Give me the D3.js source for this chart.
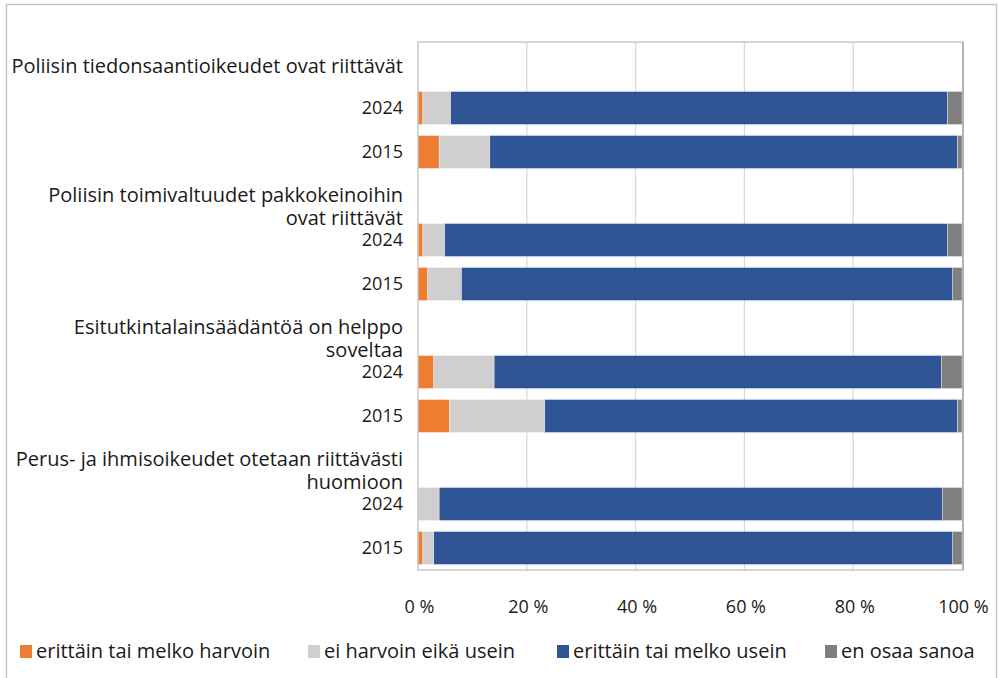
<!DOCTYPE html>
<html><head><meta charset="utf-8">
<script src="https://cdn.jsdelivr.net/npm/d3@7/dist/d3.min.js"></script>
<style>html,body{margin:0;padding:0;background:#fff;}svg{display:block;}</style>
</head><body><svg id="chart" width="999" height="678"></svg>
<script>
const categories = [
  ["Poliisin tiedonsaantioikeudet ovat riittävät"],
  ["Poliisin toimivaltuudet pakkokeinoihin", "ovat riittävät"],
  ["Esitutkintalainsäädäntöä on helppo", "soveltaa"],
  ["Perus- ja ihmisoikeudet otetaan riittävästi", "huomioon"]
];
const years = ["2024", "2015"];
const seriesNames = ["erittäin tai melko harvoin", "ei harvoin eikä usein", "erittäin tai melko usein", "en osaa sanoa"];
// order: cat0-2024, cat0-2015, cat1-2024, cat1-2015, ...
const harvoin = [0.9, 3.9, 0.9, 1.8, 2.9, 5.8, 0.0, 0.9];
const neutraali = [5.1, 9.3, 4.0, 6.2, 11.1, 17.5, 3.9, 2.0];
const usein = [91.3, 86.0, 92.4, 90.3, 82.2, 75.9, 92.5, 95.4];
const eos = [2.7, 0.8, 2.7, 1.7, 3.8, 0.8, 3.6, 1.7];
const xTicks = [0, 20, 40, 60, 80, 100];
const colors = ["#ED7D31", "#D0CECE", "#2F5597", "#7F7F7F"];

const font = "'Open Sans', 'Noto Sans', sans-serif";
const svg = d3.select("#chart");

// outer frame
svg.append("rect").attr("x", 6.5).attr("y", 4.5).attr("width", 990).attr("height", 700)
  .attr("fill", "#fff").attr("stroke", "#BFBFBF").attr("stroke-width", 1.3);

const plot = {left: 418, right: 963, top: 42, bottom: 570};

// rows
const rowIds = [];
categories.forEach((c, i) => {
  rowIds.push("cat" + i);
  years.forEach(y => rowIds.push("cat" + i + "-" + y));
});
const y = d3.scaleBand().domain(rowIds).range([plot.top, plot.bottom]).paddingInner(0.25).paddingOuter(0.125);
const x = d3.scaleLinear().domain([0, 100]).range([plot.left, plot.right - 1]);

// records
const records = [];
categories.forEach((c, i) => years.forEach((yr, j) => {
  const k = i * 2 + j;
  records.push({id: "cat" + i + "-" + yr, year: yr, vals: [harvoin[k], neutraali[k], usein[k], eos[k]]});
}));
const stack = d3.stack().keys([0, 1, 2, 3]).value((d, key) => d.vals[key]);
const stacked = stack(records);

// gridlines
svg.append("g").selectAll("line").data(xTicks.slice(1, -1)).join("line")
  .attr("x1", d => x(d)).attr("x2", d => x(d))
  .attr("y1", plot.top).attr("y2", plot.bottom)
  .attr("stroke", "#D9D9D9").attr("stroke-width", 1.3);

// bars
svg.append("g").selectAll("g").data(stacked).join("g")
  .attr("fill", (d, i) => colors[i])
  .selectAll("rect").data(d => d).join("rect")
  .attr("x", d => x(d[0]))
  .attr("width", d => Math.max(0, x(d[1]) - x(d[0])))
  .attr("y", d => y(d.data.id))
  .attr("height", y.bandwidth())
  .attr("stroke", "#ffffff").attr("stroke-width", 0.6).attr("stroke-opacity", 0.6);

// plot border
svg.append("rect").attr("x", plot.left).attr("y", plot.top)
  .attr("width", plot.right - plot.left).attr("height", plot.bottom - plot.top)
  .attr("fill", "none").attr("stroke", "#BFBFBF").attr("stroke-width", 1.3);
svg.append("line").attr("x1", plot.right).attr("x2", plot.right).attr("y1", plot.top).attr("y2", plot.bottom)
  .attr("stroke", "#A6A6A6").attr("stroke-width", 1.5);

// x axis labels
const xAxis = d3.axisBottom(x).tickValues(xTicks).tickFormat(d => d + " %").tickSize(0).tickPadding(0);
const gx = svg.append("g").attr("transform", `translate(1,${plot.bottom + 43})`).call(xAxis);
gx.select(".domain").remove();
gx.selectAll("text").attr("font-family", font).attr("font-size", 18).attr("fill", "#1a1a1a").attr("dy", "0");

// year labels
const labelX = plot.left - 15;
svg.append("g").selectAll("text").data(records).join("text")
  .attr("x", labelX).attr("y", d => y(d.id) + y.bandwidth() / 2)
  .attr("dy", "0.35em").attr("text-anchor", "end")
  .attr("font-family", font).attr("font-size", 18).attr("fill", "#1a1a1a")
  .text(d => d.year);

// category labels
categories.forEach((lines, i) => {
  const cy = y("cat" + i) + y.bandwidth() / 2;
  const t = svg.append("text").attr("text-anchor", "end")
    .attr("font-family", font).attr("font-size", 20).attr("fill", "#1a1a1a");
  lines.forEach((ln, li) => {
    const off = lines.length === 1 ? 2 : (li === 0 ? -1 : 21.5);
    t.append("tspan").attr("x", labelX).attr("y", cy + off).attr("dy", "0.35em").text(ln);
  });
});

// legend
const legendX = [20, 308, 557, 825];
const lg = svg.append("g").selectAll("g").data(seriesNames).join("g")
  .attr("transform", (d, i) => `translate(${legendX[i]},651)`);
lg.append("rect").attr("x", 0).attr("y", -6).attr("width", 12).attr("height", 13)
  .attr("fill", (d, i) => colors[i]);
lg.append("text").attr("x", 16).attr("y", 0).attr("dy", "0.35em")
  .attr("font-family", font).attr("font-size", 20).attr("fill", "#1a1a1a")
  .text(d => d);
</script></body></html>
